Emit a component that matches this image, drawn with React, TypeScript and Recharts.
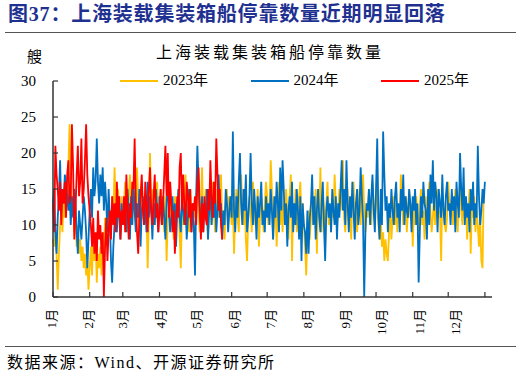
import { LineChart, Line, XAxis, YAxis } from "recharts";

// daily berthing counts, Jan 1 = day 0
const ships2023 = [
  8, 7, 9, 6, 1, 6, 10, 12, 9, 14, 11, 15, 13, 18, 24, 16, 12, 14, 9, 11, 7, 10, 6, 8, 5, 7, 4, 6, 3, 5, 1,
  4, 7, 3, 9, 5, 8, 2, 6, 4, 7, 3, 9, 6, 11, 8, 13, 10, 12, 9, 14, 11, 18, 13, 10, 15, 12, 9, 14,
  11, 13, 16, 12, 9, 14, 17, 12, 10, 15, 13, 11, 18, 14, 9, 12, 16, 13, 10, 14, 12, 4, 11, 20, 13, 15, 12, 10, 14, 16, 11,
  12, 15, 10, 13, 9, 14, 5, 11, 13, 16, 10, 12, 8, 14, 11, 13, 15, 9, 4, 12, 10, 14, 17, 11, 13, 9, 15, 12, 10, 13,
  11, 14, 16, 12, 9, 13, 18, 10, 12, 15, 11, 8, 14, 13, 10, 16, 12, 9, 13, 15, 11, 14, 17, 10, 12, 8, 13, 15, 11, 14, 12,
  10, 13, 6, 12, 15, 11, 9, 14, 17, 12, 10, 13, 8, 5, 11, 14, 12, 9, 16, 13, 10, 12, 15, 7, 11, 14, 12, 9, 13, 16,
  14, 10, 12, 19, 15, 8, 11, 13, 7, 12, 16, 10, 14, 9, 13, 11, 15, 12, 8, 14, 17, 5, 13, 10, 15, 9, 12, 14, 16, 11, 13,
  10, 7, 3, 9, 12, 8, 11, 14, 10, 12, 15, 6, 13, 11, 18, 9, 14, 12, 7, 13, 16, 10, 12, 9, 14, 11, 17, 13, 10, 12, 15,
  12, 14, 19, 11, 9, 13, 15, 10, 12, 8, 14, 16, 11, 13, 9, 12, 15, 10, 14, 17, 12, 9, 13, 11, 15, 12, 10, 16, 13, 11,
  13, 17, 10, 8, 11, 7, 9, 5, 8, 6, 5, 9, 12, 8, 11, 14, 10, 13, 9, 12, 11, 17, 13, 10, 12, 14, 9, 12, 15, 11, 13,
  7, 12, 10, 14, 11, 9, 13, 15, 10, 12, 8, 14, 11, 13, 16, 12, 9, 11, 14, 10, 13, 15, 11, 12, 5, 14, 13, 10, 9, 11,
  16, 13, 11, 14, 10, 12, 15, 11, 9, 13, 16, 12, 10, 14, 11, 13, 8, 12, 15, 6, 13, 11, 14, 9, 12, 10, 7, 11, 5, 4, 15,
];

const ships2024 = [
  13, 15, 9, 6, 11, 14, 19, 12, 15, 13, 17, 16, 14, 12, 15, 10, 14, 11, 15, 13, 9, 6, 12, 10, 8, 11, 14, 12, 9, 4, 8,
  12, 15, 11, 18, 14, 16, 22, 16, 13, 17, 14, 18, 12, 16, 13, 9, 15, 11, 5, 2, 7, 10, 12, 9, 14, 11, 8, 13, 10,
  11, 13, 9, 15, 12, 8, 14, 10, 16, 12, 9, 13, 11, 15, 7, 12, 14, 10, 13, 9, 16, 11, 14, 12, 8, 13, 10, 15, 12, 9, 14,
  12, 10, 14, 11, 8, 13, 16, 12, 9, 11, 14, 10, 13, 7, 12, 15, 11, 9, 14, 12, 10, 13, 8, 11, 15, 12, 9, 13, 10, 3,
  14, 21, 16, 12, 10, 14, 9, 13, 11, 15, 8, 12, 16, 10, 13, 11, 14, 9, 12, 17, 11, 13, 8, 12, 10, 15, 13, 9, 12, 14, 11,
  23, 12, 9, 14, 11, 16, 20, 13, 10, 15, 12, 17, 9, 11, 14, 20, 13, 10, 15, 12, 8, 14, 11, 13, 16, 10, 12, 9, 14, 11,
  13, 10, 15, 12, 8, 14, 11, 16, 13, 9, 18, 12, 19, 15, 10, 13, 7, 12, 14, 11, 16, 9, 13, 10, 15, 12, 8, 14, 5, 13, 10,
  9, 6, 12, 6, 11, 13, 17, 10, 14, 8, 12, 15, 11, 9, 13, 16, 10, 5, 12, 14, 11, 13, 9, 15, 12, 10, 14, 8, 13, 11, 15,
  19, 12, 15, 10, 19, 13, 9, 14, 11, 16, 12, 8, 13, 15, 10, 12, 18, 14, 11, 0, 9, 13, 12, 15, 10, 14, 17, 12, 9, 15,
  22, 11, 8, 15, 10, 23, 17, 12, 14, 9, 13, 11, 15, 12, 10, 14, 16, 11, 13, 9, 15, 12, 17, 10, 14, 12, 11, 15, 13, 9, 14,
  12, 15, 10, 13, 2, 9, 14, 11, 16, 13, 12, 8, 15, 10, 17, 13, 19, 12, 16, 14, 9, 15, 13, 11, 17, 12, 10, 14, 16, 12,
  13, 10, 15, 12, 14, 9, 16, 13, 11, 20, 15, 12, 18, 10, 14, 11, 13, 9, 15, 12, 16, 10, 13, 11, 21, 14, 10, 12, 15, 13, 16,
];

const ships2025 = [
  13, 9, 21, 17, 15, 12, 16, 10, 15, 13, 16, 11, 17, 19, 13, 14, 24, 18, 8, 12, 17, 21, 14, 16, 22, 13, 15, 19, 24, 17, 14,
  12, 10, 7, 11, 6, 9, 5, 12, 8, 10, 6, 9, 0, 7, 11, 5, 9, 12, 8, 14, 10, 13, 9, 16, 11, 14, 8, 12,
  10, 14, 9, 17, 12, 8, 13, 11, 16, 15, 22, 13, 9, 6, 11, 14, 17, 12, 10, 16, 13, 9, 15, 18, 12, 10, 14, 17, 11, 13, 9,
  12, 15, 10, 13, 17, 21, 14, 20, 11, 16, 13, 9, 12, 6, 10, 14, 11, 18, 20, 12, 17, 13, 10, 16, 14, 11, 15, 9, 13, 12,
  14, 10, 16, 18, 12, 8, 13, 9, 14, 11, 10, 15, 12, 19, 14, 11, 16, 13, 22, 17, 12, 15, 10, 8,
];

const monthStarts = [0, 31, 59, 90, 120, 151, 181, 212, 243, 273, 304, 334, 365];
const monthLabels = ["1月", "2月", "3月", "4月", "5月", "6月", "7月", "8月", "9月", "10月", "11月", "12月", ""];
const yTicks = [0, 5, 10, 15, 20, 25, 30];

const series = [
  { key: "y2023", name: "2023年", color: "#FFC000" },
  { key: "y2024", name: "2024年", color: "#0070C0" },
  { key: "y2025", name: "2025年", color: "#FF0000" },
];

const data = ships2024.map((_, day) => ({
  day,
  y2023: ships2023[day],
  y2024: ships2024[day],
  y2025: ships2025[day],
}));

const serif = '"Liberation Serif", "Times New Roman", "Noto Sans CJK SC", serif';

function MonthTick(props: any) {
  const { x, y, payload } = props;
  const i = monthStarts.indexOf(payload.value);
  // labels drift a little right of their ticks in the original
  const lx = x - 1.5 + i * 0.8;
  return (
    <text
      x={lx}
      y={y}
      transform={`rotate(-90 ${lx} ${y})`}
      textAnchor="end"
      dominantBaseline="central"
      fontSize={13}
      fontFamily={serif}
      fill="#000"
    >
      {monthLabels[i]}
    </text>
  );
}

export default function App() {
  return (
    <div
      style={{
        position: "absolute",
        left: 0,
        top: 0,
        width: 522,
        height: 376,
        background: "#fff",
        fontFamily: serif,
        color: "#000",
      }}
    >
      <div
        style={{
          position: "absolute",
          left: 8,
          top: 3,
          fontSize: 20,
          lineHeight: "22px",
          fontWeight: "bold",
          color: "#1f3190",
          whiteSpace: "nowrap",
          letterSpacing: 0.8,
        }}
      >
        图37：上海装载集装箱船停靠数量近期明显回落
      </div>
      <div style={{ position: "absolute", left: 5, top: 32, width: 511, borderTop: "1.5px solid #555" }} />

      <div
        style={{
          position: "absolute",
          left: 140,
          top: 44,
          width: 260,
          textAlign: "center",
          fontSize: 16,
          lineHeight: "17px",
          letterSpacing: 3,
          whiteSpace: "nowrap",
        }}
      >
        上海装载集装箱船停靠数量
      </div>
      <div style={{ position: "absolute", left: 27, top: 49, fontSize: 15, lineHeight: "16px" }}>艘</div>

      <LineChart
        width={522}
        height={376}
        data={data}
        margin={{ top: 81, right: 30, bottom: 49, left: 0 }}
        style={{ position: "absolute", left: 0, top: 0 }}
      >
        <XAxis
          dataKey="day"
          type="number"
          domain={[0, 371]}
          ticks={monthStarts}
          interval={0}
          height={30}
          tickSize={-5}
          tickMargin={17}
          axisLine={{ stroke: "#333", strokeWidth: 1.5 }}
          tickLine={{ stroke: "#333", strokeWidth: 1.2 }}
          tick={<MonthTick />}
        />
        <YAxis
          type="number"
          domain={[0, 30]}
          ticks={yTicks}
          interval={0}
          width={53}
          tickSize={-5}
          tickMargin={22}
          axisLine={{ stroke: "#333", strokeWidth: 1.5 }}
          tickLine={{ stroke: "#333", strokeWidth: 1.2 }}
          tick={{ fill: "#000", fontSize: 15, fontFamily: serif }}
        />
        {series.map((s) => (
          <Line
            key={s.key}
            dataKey={s.key}
            type="linear"
            stroke={s.color}
            strokeWidth={1.8}
            dot={false}
            activeDot={false}
            isAnimationActive={false}
          />
        ))}
      </LineChart>

      {series.map((s, i) => (
        <div
          key={s.key}
          style={{
            position: "absolute",
            left: 120 + i * 130.5,
            top: 72,
            display: "flex",
            alignItems: "center",
            whiteSpace: "nowrap",
            fontSize: 15,
            lineHeight: "17px",
          }}
        >
          <span style={{ display: "inline-block", width: 38, height: 2, background: s.color, marginRight: 5 }} />
          <span>{s.name}</span>
        </div>
      ))}

      <div style={{ position: "absolute", left: 5, top: 346, width: 511, borderTop: "1.5px solid #555" }} />
      <div
        style={{
          position: "absolute",
          left: 7,
          top: 354,
          fontSize: 16,
          lineHeight: "18px",
          letterSpacing: 1.5,
          whiteSpace: "nowrap",
        }}
      >
        数据来源：Wind、开源证券研究所
      </div>
    </div>
  );
}
